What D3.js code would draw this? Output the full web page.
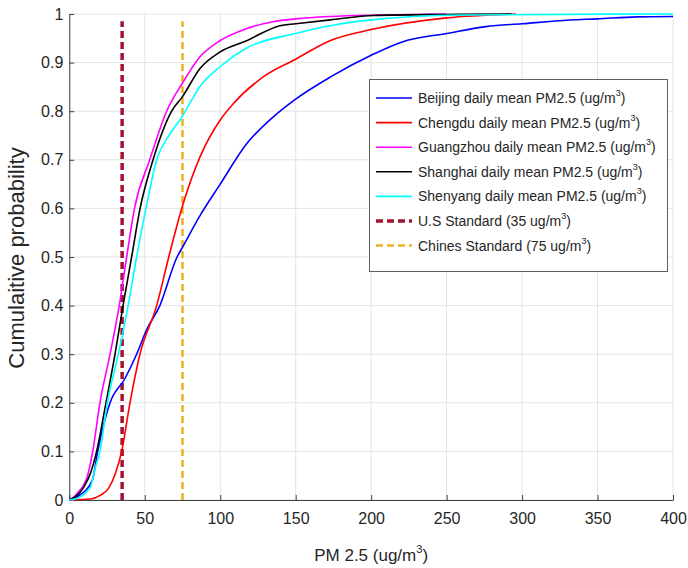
<!DOCTYPE html>
<html>
<head>
<meta charset="utf-8">
<script src="https://cdn.jsdelivr.net/npm/d3@7"></script>
<style>
  body { margin: 0; background: #fff; }
  text { font-family: "Liberation Sans", Arial, sans-serif; fill: #262626; }
</style>
</head>
<body>
<div id="chart"></div>
<script>
// PM2.5 values (ug/m3) and cumulative probability
const beijingX = [0, 5.3, 15.2, 18.8, 27, 36.9, 44.6, 51.2, 60, 71.4, 75, 86.6, 100, 117.5, 135, 150, 172.8, 200, 221, 250, 276, 300, 331.6, 350, 375.8, 400];
const beijingP = [0, 0.007, 0.04, 0.1, 0.2, 0.25, 0.3, 0.35, 0.4, 0.5, 0.52, 0.585, 0.65, 0.733, 0.788, 0.825, 0.87, 0.915, 0.943, 0.96, 0.974, 0.98, 0.9875, 0.99, 0.994, 0.995];

const chengduX = [0, 14, 20.7, 26, 30.6, 34.7, 40.2, 46.8, 57.9, 65.9, 74.5, 86.6, 100, 108.8, 128.7, 150, 172.6, 200, 250, 296];
const chengduP = [0, 0.002, 0.01, 0.024, 0.055, 0.1, 0.2, 0.3, 0.4, 0.5, 0.6, 0.706, 0.782, 0.816, 0.871, 0.907, 0.945, 0.968, 0.992, 1];

const guangzhouX = [0, 3, 5.3, 11.9, 15.5, 20.3, 27, 33.1, 38, 43.2, 53.3, 64.5, 75, 86.6, 99.8, 117.5, 135, 150, 172.8, 206, 250];
const guangzhouP = [0, 0.006, 0.014, 0.048, 0.1, 0.2, 0.3, 0.4, 0.5, 0.6, 0.7, 0.8, 0.858, 0.912, 0.945, 0.97, 0.984, 0.99, 0.995, 0.998, 1];

const shanghaiX = [0, 5.3, 9.7, 14, 18.1, 24.3, 30.3, 35.6, 41.3, 46.9, 55.5, 67.8, 75, 86.6, 100, 117.5, 139.5, 150, 173, 201.6, 250, 293];
const shanghaiP = [0, 0.01, 0.027, 0.055, 0.1, 0.2, 0.3, 0.4, 0.5, 0.6, 0.7, 0.8, 0.83, 0.888, 0.922, 0.945, 0.976, 0.98, 0.988, 0.997, 0.999, 1];

const shenyangX = [0, 5, 14, 17.4, 20.3, 25.2, 32.5, 39, 44.6, 50.8, 57.9, 66, 74, 86.6, 100, 117.5, 150, 172.8, 200, 259, 400];
const shenyangP = [0, 0.003, 0.027, 0.068, 0.1, 0.2, 0.3, 0.4, 0.5, 0.6, 0.7, 0.75, 0.785, 0.851, 0.892, 0.93, 0.96, 0.976, 0.988, 0.998, 1];

const cityNames = ["Beijing", "Chengdu", "Guangzhou", "Shanghai", "Shenyang"];
const cityColors = ["#0000ff", "#ff0000", "#ff00ff", "#000000", "#00ffff"];
const cityX = [beijingX, chengduX, guangzhouX, shanghaiX, shenyangX];
const cityP = [beijingP, chengduP, guangzhouP, shanghaiP, shenyangP];

const standardNames = ["U.S Standard (35 ug/m", "Chines Standard (75 ug/m"];
const standardValues = [35, 75];
const standardColors = ["#a2142f", "#edb120"];

const xTicks = [0, 50, 100, 150, 200, 250, 300, 350, 400];
const yTicks = [0, 0.1, 0.2, 0.3, 0.4, 0.5, 0.6, 0.7, 0.8, 0.9, 1];

const svgWidth = 688;
const svgHeight = 568;

const svg = d3.select("#chart")
    .append("svg")
    .attr("width", svgWidth)
    .attr("height", svgHeight);

const x = d3.scaleLinear().domain([0, 400]).range([69.3, 673]);
const y = d3.scaleLinear().domain([0, 1]).range([500, 14]);

// grid
svg.append("g")
    .selectAll("line")
    .data(xTicks)
    .join("line")
    .attr("x1", d => x(d)).attr("x2", d => x(d))
    .attr("y1", y(0)).attr("y2", y(1))
    .attr("stroke", "#e3e3e3")
    .attr("stroke-width", 1);

svg.append("g")
    .selectAll("line")
    .data(yTicks)
    .join("line")
    .attr("x1", x(0)).attr("x2", x(400))
    .attr("y1", d => y(d)).attr("y2", d => y(d))
    .attr("stroke", "#e3e3e3")
    .attr("stroke-width", 1);

// axes
svg.append("g")
    .attr("transform", `translate(0,${y(0)})`)
    .call(d3.axisBottom(x).tickValues(xTicks).tickSizeInner(-5).tickSizeOuter(0).tickPadding(13).tickFormat(d3.format("d")))
    .call(g => g.select(".domain").attr("stroke", "#404040"))
    .call(g => g.selectAll(".tick line").attr("stroke", "#404040"))
    .call(g => g.selectAll(".tick text").attr("font-size", 16).attr("font-family", null).attr("fill", "#262626"));

svg.append("g")
    .attr("transform", `translate(${x(0)},0)`)
    .call(d3.axisLeft(y).tickValues(yTicks).tickSizeInner(-5).tickSizeOuter(0).tickPadding(6).tickFormat(d => d3.format("~g")(d)))
    .call(g => g.select(".domain").attr("stroke", "#404040"))
    .call(g => g.selectAll(".tick line").attr("stroke", "#404040"))
    .call(g => g.selectAll(".tick text").attr("font-size", 16).attr("font-family", null).attr("fill", "#262626"));

// axis labels
const xl = svg.append("text")
    .attr("x", x(200))
    .attr("y", 561)
    .attr("text-anchor", "middle")
    .attr("font-size", 17);
xl.append("tspan").text("PM 2.5 (ug/m");
xl.append("tspan").attr("font-size", 11).attr("dy", -8).text("3");
xl.append("tspan").attr("dy", 8).text(")");

svg.append("text")
    .attr("transform", `translate(24,${258}) rotate(-90)`)
    .attr("text-anchor", "middle")
    .attr("font-size", 22)
    .text("Cumulaitive probability");

// standard lines
svg.append("g")
    .selectAll("line")
    .data(standardValues)
    .join("line")
    .attr("x1", d => x(d)).attr("x2", d => x(d))
    .attr("y1", y(0)).attr("y2", y(0.985))
    .attr("stroke", (d, i) => standardColors[i])
    .attr("stroke-width", (d, i) => i === 0 ? 3.5 : 2.5)
    .attr("stroke-dasharray", "7,4");

// curves
const line = d3.line()
    .curve(d3.curveMonotoneX)
    .x(d => x(d[0]))
    .y(d => y(d[1]));

svg.append("g")
    .selectAll("path")
    .data(cityNames)
    .join("path")
    .attr("d", (d, i) => line(cityX[i].map((v, j) => [v, cityP[i][j]])))
    .attr("fill", "none")
    .attr("stroke", (d, i) => cityColors[i])
    .attr("stroke-width", 1.6);

// legend
const legend = svg.append("g");
legend.append("rect")
    .attr("x", 369.5).attr("y", 79.5)
    .attr("width", 298).attr("height", 192)
    .attr("fill", "#fff")
    .attr("stroke", "#606060")
    .attr("stroke-width", 1);

const rowY = d => 98 + d * 24.6;
const items = cityNames.map((n, i) => ({ label: n + " daily mean PM2.5 (ug/m", close: ")", color: cityColors[i], dash: null, w: 1.6 }))
    .concat(standardNames.map((n, i) => ({ label: n, close: ")", color: standardColors[i], dash: "7,4", w: i === 0 ? 3.5 : 2.5 })));

items.forEach((it, i) => {
    legend.append("line")
        .attr("x1", 376).attr("x2", 412)
        .attr("y1", rowY(i)).attr("y2", rowY(i))
        .attr("stroke", it.color)
        .attr("stroke-width", it.w)
        .attr("stroke-dasharray", it.dash);
    const t = legend.append("text")
        .attr("x", 418)
        .attr("y", rowY(i) + 5)
        .attr("font-size", 14);
    t.append("tspan").text(it.label);
    t.append("tspan").attr("font-size", 9).attr("dy", -7).text("3");
    t.append("tspan").attr("dy", 7).text(it.close);
});
</script>
</body>
</html>
